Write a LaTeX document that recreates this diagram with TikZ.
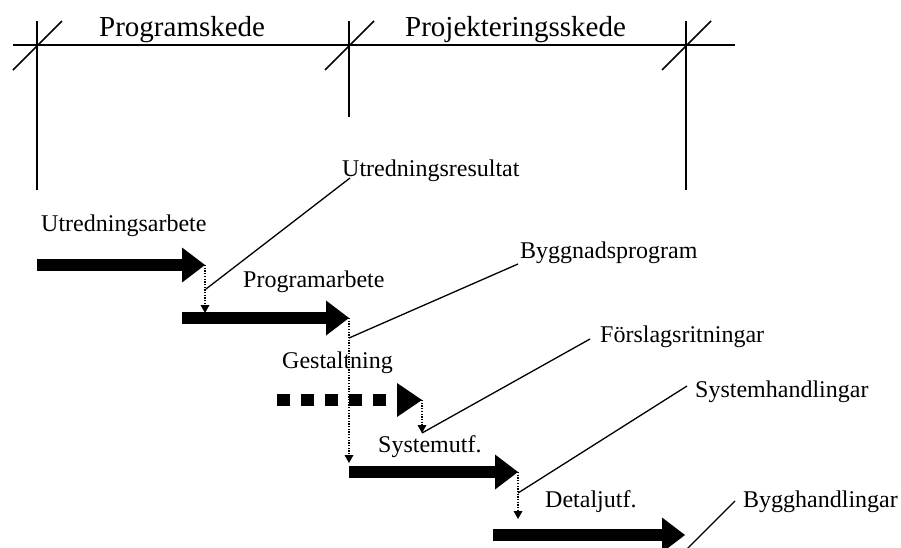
\documentclass[tikz,border=0pt]{standalone}
\usepackage{fontspec}
\setmainfont{Liberation Serif}
\usetikzlibrary{arrows.meta}

\tikzset{
  fas/.style={line width=11.5pt,-{Triangle[length=23pt,width=35pt,line width=0pt]}},
  gas/.style={line width=12pt,dash pattern=on 12.5pt off 11.5pt,
    -{Triangle[length=25pt,width=34pt,line width=0pt]}},
  pil/.style={line width=1.3pt,dash pattern=on 1.3pt off 1.4pt,
    -{Triangle[length=8pt,width=9pt,line width=0pt]}},
  led/.style={line width=1.3pt},
  skl/.style={line width=1.6pt},
  lbl/.style={anchor=base west,inner sep=0pt,font=\fontsize{24}{28}\selectfont},
  hdr/.style={lbl,font=\fontsize{29}{34}\selectfont}
}

\begin{document}
\begin{tikzpicture}[x=1pt,y=-1pt]
  \useasboundingbox (0,0) rectangle (901,547);

  % skeden
  \draw[skl] (13,45) coordinate (tl0) -- (735,45) coordinate (tl1);
  \foreach \x/\h in {37/190,349/117,686/190} {
    \draw[skl] (\x,21) -- (\x,\h);
    \draw[skl] (\x-24,70) -- (\x+25,21);
  }
  \node[hdr] (ps) at (99,36) {Programskede};
  \node[hdr] (pjs) at (405,36) {Projekteringsskede};

  % arbeten
  \coordinate (ua0) at (37,265);  \coordinate (ua1) at (205,265);
  \coordinate (pa0) at (182,318); \coordinate (pa1) at (349,318);
  \coordinate (ga0) at (277,400); \coordinate (ga1) at (422,400);
  \coordinate (su0) at (349,472); \coordinate (su1) at (518,472);
  \coordinate (du0) at (493,535); \coordinate (du1) at (685,535);
  \draw[fas] (ua0) -- (ua1);
  \draw[fas] (pa0) -- (pa1);
  \draw[gas] (ga0) -- (ga1);
  \draw[fas] (su0) -- (su1);
  \draw[fas] (du0) -- (du1);

  \node[lbl] (ua) at (41,231) {Utredningsarbete};
  \node[lbl] (pa) at (243,287) {Programarbete};
  \node[lbl] (ga) at (282,368) {Gestaltning};
  \node[lbl] (su) at (378,452) {Systemutf.};
  \node[lbl] (du) at (545,507) {Detaljutf.};

  % overgangar
  \coordinate (uat) at (205,313);
  \coordinate (pat) at (349,463);
  \coordinate (gat) at (422,433);
  \coordinate (sut) at (518,519);
  \draw[pil] (ua1) -- (uat);
  \draw[pil] (pa1) -- (pat);
  \draw[pil] (ga1) -- (gat);
  \draw[pil] (su1) -- (sut);

  % resultat
  \node[lbl] (ur) at (342,176) {Utredningsresultat};
  \node[lbl] (bp) at (520,258) {Byggnadsprogram};
  \node[lbl] (fr) at (600,342) {Förslagsritningar};
  \node[lbl] (sh) at (695,397) {Systemhandlingar};
  \node[lbl] (bh) at (743,507) {Bygghandlingar};
  \coordinate (ur0) at (206,289); \coordinate (ur1) at (350,178);
  \coordinate (bp0) at (349,338); \coordinate (bp1) at (518,264);
  \coordinate (fr1) at (590,339);
  \coordinate (sh0) at (518,493); \coordinate (sh1) at (687,386);
  \coordinate (bh0) at (687,549); \coordinate (bh1) at (735,501);
  \draw[led] (ur0) -- (ur1);
  \draw[led] (bp0) -- (bp1);
  \draw[led] (gat) -- (fr1);
  \draw[led] (sh0) -- (sh1);
  \draw[led] (bh0) -- (bh1);
\end{tikzpicture}
\end{document}
